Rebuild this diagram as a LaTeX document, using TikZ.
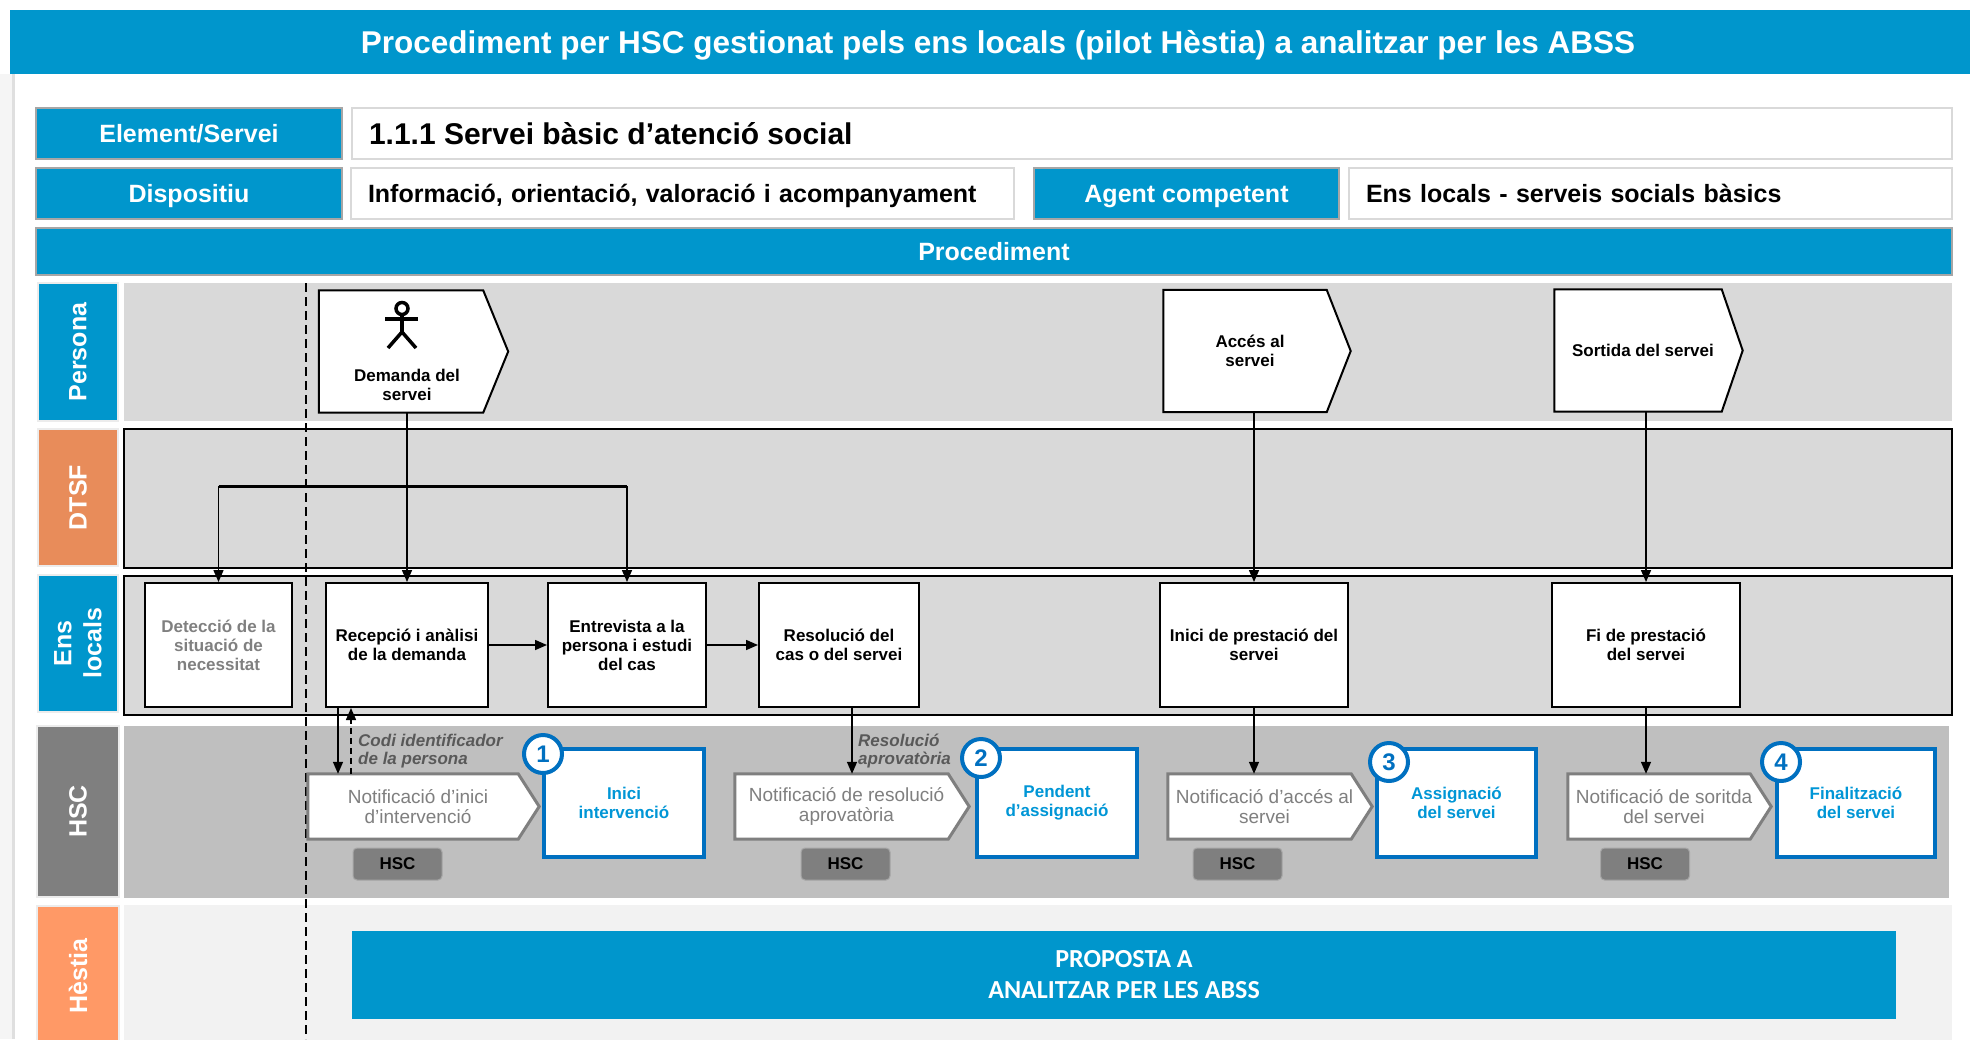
\documentclass[tikz,border=0pt]{standalone}
\usepackage{fontspec}
\setmainfont{Liberation Sans}
\newfontfamily\calib{Carlito}
\usetikzlibrary{calc,arrows.meta}
\definecolor{hblue}{RGB}{0,150,204}
\definecolor{dblue}{RGB}{0,112,192}
\definecolor{tblue}{RGB}{0,150,214}
\definecolor{lanegray}{RGB}{217,217,217}
\definecolor{hscgray}{RGB}{191,191,191}
\definecolor{midgray}{RGB}{127,127,127}
\definecolor{txtgray}{RGB}{128,128,128}
\definecolor{lblgray}{RGB}{89,89,89}
\definecolor{dtsforange}{RGB}{232,140,90}
\definecolor{hestorange}{RGB}{255,153,102}
\definecolor{hestbg}{RGB}{242,242,242}
\definecolor{framegray}{RGB}{166,166,166}
\definecolor{boxgray}{RGB}{217,217,217}
\newcommand{\fsz}[2]{\fontsize{#1}{#2}\selectfont}
\pgfdeclarelayer{back}
\pgfdeclarelayer{shapes}
\pgfsetlayers{back,shapes,main}
\tikzset{
  hdr/.style={fill=hblue, draw=framegray, line width=2pt, text=white, font=\bfseries\fsz{25}{30}, inner sep=0pt, minimum height=51pt, text depth=0pt},
  valbox/.style={fill=white, draw=boxgray, line width=2pt, inner xsep=17pt, inner ysep=0pt, minimum height=51pt, align=left, font=\bfseries\fsz{25}{30}, text depth=0pt},
  lanelbl/.style={rotate=90, text=white, font=\bfseries\fsz{25}{30}, inner sep=0pt, draw=white!85!gray, line width=1.5pt, align=center},
  lanebox/.style={fill=lanegray, draw=black, line width=2pt},
  evbox/.style={inner sep=0pt, minimum height=122pt, align=center, font=\bfseries\fsz{17}{19}},
  evshape/.style={fill=white, draw=black, line width=2pt, line join=miter},
  evtext/.style={font=\bfseries\fsz{17}{19}, align=center, inner sep=0pt},
  actbox/.style={fill=white, draw=black, line width=2pt, minimum height=124pt, inner sep=0pt, align=center, font=\bfseries\fsz{17}{19}},
  ntfbox/.style={inner sep=0pt, minimum height=65pt, align=center, text=midgray, font=\fsz{19}{20.5}},
  ntfshape/.style={fill=white, draw=midgray, line width=3pt},
  tagbox/.style={fill=midgray, draw=framegray, line width=1pt, rounded corners=4pt, minimum width=89pt, minimum height=32pt, inner sep=0pt, font=\bfseries\fsz{17}{19}},
  stbox/.style={fill=white, draw=dblue, line width=4pt, minimum height=108pt, inner sep=0pt, align=center, text=tblue, font=\bfseries\fsz{17}{19}},
  stnum/.style={circle, fill=white, draw=dblue, line width=4pt, minimum size=38pt, inner sep=0pt, text=dblue, font=\bfseries\fsz{24}{26}},
  arr/.style={line width=1.5pt, -{Triangle[length=12pt,width=10pt]}},
  flowlbl/.style={anchor=west, align=left, text=lblgray, font=\bfseries\itshape\fsz{17}{18}, inner sep=0pt},
}
\begin{document}
\begin{tikzpicture}[x=1pt,y=-1pt]
\useasboundingbox (0,0) rectangle (1970,1039);
\begin{pgfonlayer}{back}
  \fill[white] (0,0) rectangle (1970,1039);
  \fill[gray!8] (0,74) rectangle (12,1039);
  \draw[gray!25, line width=3pt] (13,74) -- (13,1039);
  % lanes
  \fill[lanegray] (124,283) rectangle (1952,421);
  \draw[lanebox] (124,429) rectangle (1952,568);
  \draw[lanebox] (124,576) rectangle (1952,715);
  \fill[hscgray] (124,726) rectangle (1949,898);
  \fill[hestbg] (124,905) rectangle (1952,1045);
  \draw[line width=2pt, dash pattern=on 9pt off 5pt] (306,283) -- (306,1039);
\end{pgfonlayer}

% title and header
\node[fill=hblue, minimum width=1976pt, minimum height=64pt, inner sep=0pt, text depth=0pt, text=white, font=\bfseries\fsz{31.5}{36}] (title) at (998,42) {Procediment per HSC gestionat pels ens locals (pilot Hèstia) a analitzar per les ABSS};
\node[hdr, minimum width=306pt] (elem) at (189,133.5) {Element/Servei};
\node[valbox, text width=1566pt] (serv) at (1152,133.5) {\fsz{30}{34}1.1.1 Servei bàsic d’atenció social};
\node[hdr, minimum width=306pt] (disp) at (189,193.5) {Dispositiu};
\node[valbox, text width=629pt] (info) at (682.5,193.5) {Informació, orientació, valoració i acompanyament};
\node[hdr, minimum width=305pt] (agent) at (1186.5,193.5) {Agent competent};
\node[valbox, text width=569pt] (ensv) at (1650.5,193.5) {Ens locals - serveis socials bàsics};
\node[hdr, minimum width=1916pt, minimum height=47pt] (proc) at (994,251.5) {Procediment};

% lane labels
\node[lanelbl, fill=hblue, minimum width=138pt, minimum height=80pt] (lPers) at (78,352) {Persona};
\node[lanelbl, fill=dtsforange, minimum width=137pt, minimum height=80pt] (lDtsf) at (78,497.5) {DTSF};
\node[lanelbl, fill=hblue, minimum width=137pt, minimum height=80pt] (lEns) at (78,643.5) {Ens\\locals};
\node[lanelbl, fill=midgray, minimum width=171pt, minimum height=82pt] (lHsc) at (78,811.5) {HSC};
\node[lanelbl, fill=hestorange, minimum width=140pt, minimum height=82pt] (lHes) at (78,976) {Hèstia};

% Persona events (node centre = text centre; shape drawn 5pt to the left)
\node[evbox, minimum width=164pt] (dem) at (406,351.5) {};
\node[evbox, minimum width=163pt] (acc) at (1250,351) {Accés al\\servei};
\node[evbox, minimum width=167pt] (sor) at (1643,350.5) {Sortida del servei};
\begin{pgfonlayer}{shapes}
  \foreach \n/\t in {dem/20,acc/19,sor/16}{
    \draw[evshape] ($(\n.north west)+(-5,0)$) -- ($(\n.north east)+(-5,0)$) -- ($(\n.east)+(\t,0)$) -- ($(\n.south east)+(-5,0)$) -- ($(\n.south west)+(-5,0)$) -- cycle;
  }
\end{pgfonlayer}
\node[evtext] (demT) at (407,384.5) {Demanda del\\servei};
\draw[line width=3.5pt] (402,308.5) circle[radius=6pt];
\draw[line width=4pt] (385,319) -- (418,319);
\draw[line width=3.5pt] (402,314) -- (402,332);
\draw[line width=3.5pt] (388,348) -- (402,332) -- (416,348);

% Ens locals activities
\node[actbox, minimum width=147pt, text=txtgray] (det) at (218.5,645) {Detecció de la\\situació de\\necessitat};
\node[actbox, minimum width=162pt] (rec) at (407,645) {Recepció i anàlisi\\de la demanda};
\node[actbox, minimum width=158pt] (ent) at (627,645) {Entrevista a la\\persona i estudi\\del cas};
\node[actbox, minimum width=160pt] (res) at (839,645) {Resolució del\\cas o del servei};
\node[actbox, minimum width=188pt] (ini) at (1254,645) {Inici de prestació del\\servei};
\node[actbox, minimum width=188pt] (fi) at (1646,645) {Fi de prestació\\del servei};

% connectors persona -> ens
\coordinate (br) at (404,486);
\draw[arr] (rec.north |- dem.south) -- (rec.north);
\draw[line width=3pt] (det.north |- br) -- (ent.north |- br);
\draw[arr] (det.north |- br) -- (det.north);
\draw[arr] (ent.north |- br) -- (ent.north);
\draw[arr] (rec.east) -- (ent.west);
\draw[arr] (ent.east) -- (res.west);
\draw[arr] (ini.north |- acc.south) -- (ini.north);
\draw[arr] (fi.north |- sor.south) -- (fi.north);

% HSC notifications (node centre = text centre; shape drawn 5pt to the left)
\node[ntfbox, minimum width=210pt] (n1) at (418,806.5) {Notificació d’inici\\d’intervenció};
\node[ntfbox, minimum width=213pt] (n2) at (846.5,806.5) {Notificació de resolució\\aprovatòria};
\node[ntfbox, minimum width=183pt] (n3) at (1264.5,806.5) {Notificació d’accés al\\servei};
\node[ntfbox, minimum width=182pt] (n4) at (1664,806.5) {Notificació de soritda\\del servei};
\begin{pgfonlayer}{shapes}
  \foreach \n in {n1,n2,n3,n4}{
    \draw[ntfshape] ($(\n.north west)+(-5,0)$) -- ($(\n.north east)+(-5,0)$) -- ($(\n.east)+(16,0)$) -- ($(\n.south east)+(-5,0)$) -- ($(\n.south west)+(-5,0)$) -- cycle;
  }
\end{pgfonlayer}
\node[tagbox] (t1) at (397.5,864) {HSC};
\node[tagbox] (t2) at (845.5,864) {HSC};
\node[tagbox] (t3) at (1237.5,864) {HSC};
\node[tagbox] (t4) at (1645,864) {HSC};

% status boxes
\node[stbox, minimum width=160pt] (s1) at (624,803) {Inici\\intervenció};
\node[stbox, minimum width=160pt] (s2) at (1057,803) {Pendent\\d’assignació};
\node[stbox, minimum width=159pt] (s3) at (1456.5,803) {Assignació\\del servei};
\node[stbox, minimum width=158pt] (s4) at (1856,803) {Finalització\\del servei};
\node[stnum] (c1) at (543,754) {1};
\node[stnum] (c2) at (981,758) {2};
\node[stnum] (c3) at (1389,762) {3};
\node[stnum] (c4) at (1781,762) {4};

% connectors ens -> HSC
\coordinate (a1) at ([xshift=13pt]rec.south west);
\coordinate (a2) at ([xshift=26pt]rec.south west);
\draw[arr] (a1) -- (a1 |- n1.north);
\draw[arr, dash pattern=on 6pt off 4pt] (a2 |- n1.north) -- (a2);
\node[flowlbl] (codi) at (358,751) {Codi identificador\\de la persona};
\coordinate (a3) at ([xshift=13pt]res.south);
\draw[arr] (a3) -- (a3 |- n2.north);
\node[flowlbl] (resl) at (858,751) {Resolució\\aprovatòria};
\draw[arr] (ini.south) -- (ini.south |- n3.north);
\draw[arr] (fi.south) -- (fi.south |- n4.north);

% Hestia
\node[fill=hblue, minimum width=1544pt, minimum height=88pt, inner sep=0pt, text=white, align=center, font=\calib\bfseries\fsz{26}{31}] (prop) at (1124,975) {PROPOSTA A\\ANALITZAR PER LES ABSS};
\end{tikzpicture}
\end{document}
